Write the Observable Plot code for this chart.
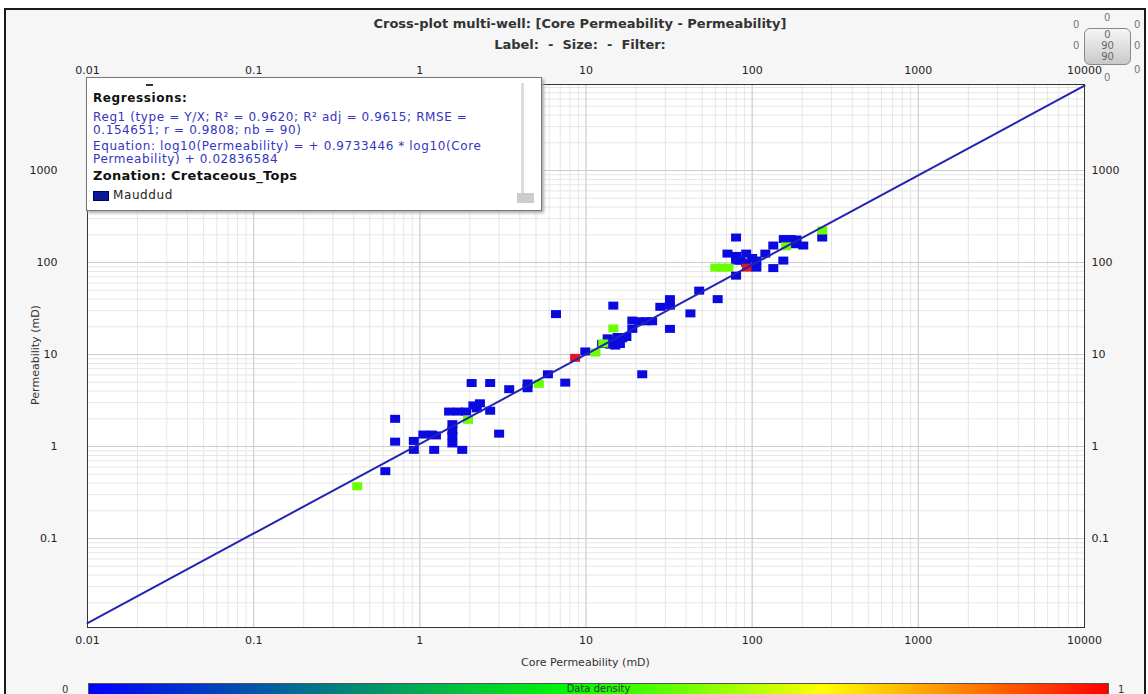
<!DOCTYPE html>
<html><head><meta charset="utf-8">
<script src="https://cdn.jsdelivr.net/npm/d3@7"></script>
<script src="https://cdn.jsdelivr.net/npm/@observablehq/plot@0.6"></script>
<style>
body{margin:0;background:#fff;font-family:"DejaVu Sans",Verdana,sans-serif;}
#page{position:relative;width:1148px;height:694px;overflow:hidden;background:#fff;}
#frame{position:absolute;left:4px;top:8px;width:1138px;height:700px;border:2px solid #1a1a1a;border-bottom:none;background:#f6f6f6;}
.abs{position:absolute;}
#title{left:0;width:1160px;top:13px;text-align:center;font-weight:bold;font-size:13px;color:#333;line-height:21px;}
#chart{left:0;top:0;}
#legend{left:86px;top:77px;width:454px;height:132px;background:#fff;border:1px solid #777;box-shadow:2px 2px 3px #aaa;font-size:12px;letter-spacing:0.6px;}
#legend .t{position:absolute;left:6px;white-space:nowrap;}
.blue{color:#3535c0;line-height:12.5px;}
#xlab{left:0;width:1171px;text-align:center;top:656px;font-size:11px;color:#333;}
#ylab{left:35px;top:355px;transform:translate(-50%,-50%) rotate(-90deg);font-size:11px;color:#333;white-space:nowrap;}
#bar{left:88px;top:683px;width:1019px;height:16px;background:linear-gradient(to right,#0000ff 0%,#007f80 24%,#00ff00 48%,#ffff00 72%,#ff8000 86%,#ff0000 100%);border:1px solid #555;}
#bar span{position:absolute;left:0;width:100%;text-align:center;top:-1px;font-size:10px;line-height:11px;color:#333;}
.w0{font-size:10px;color:#777;}
#widget{left:1084px;top:28px;width:45px;height:35px;border:1px solid #888;border-radius:6px;background:linear-gradient(#f6f6f6,#c9c9c9);font-size:10px;color:#666;text-align:center;line-height:11px;}
</style></head>
<body><div id="page">
<div id="frame"></div>
<div id="title" class="abs">Cross-plot multi-well: [Core Permeability - Permeability]<br>Label:&nbsp; -&nbsp; Size:&nbsp; -&nbsp; Filter:</div>
<div id="chart" class="abs"></div>
<div id="legend" class="abs">
  <div class="abs" style="left:59px;top:6px;width:7px;height:2px;background:#333"></div>
  <div class="t" style="top:13px;font-weight:bold;color:#111">Regressions:</div>
  <div class="t blue" style="top:33px">Reg1 (type = Y/X; R² = 0.9620; R² adj = 0.9615; RMSE =<br>0.154651; r = 0.9808; nb = 90)</div>
  <div class="t blue" style="top:62px">Equation: log10(Permeability) = + 0.9733446 * log10(Core<br>Permeability) + 0.02836584</div>
  <div class="t" style="top:90px;font-weight:bold;font-size:13px;letter-spacing:0.3px;color:#111">Zonation: Cretaceous_Tops</div>
  <div class="abs" style="left:6px;top:113px;width:14px;height:8px;background:#0a1a9a;border:1px solid #000050"></div>
  <div class="t" style="top:110px;left:26px;color:#222">Mauddud</div>
  <div class="abs" style="left:434px;top:5px;width:3px;height:110px;background:#ddd"></div>
  <div class="abs" style="left:430px;top:115px;width:17px;height:10px;background:#ccc"></div>
</div>
<div id="xlab" class="abs">Core Permeability (mD)</div>
<div id="ylab" class="abs">Permeability (mD)</div>
<div class="abs" style="left:62px;top:684px;font-size:10px;color:#333">0</div>
<div class="abs" style="left:1118px;top:684px;font-size:10px;color:#333">1</div>
<div id="bar" class="abs"><span>Data density</span></div>
<div class="abs w0" style="left:1073px;top:19px">0</div>
<div class="abs w0" style="left:1104px;top:12px">0</div>
<div class="abs w0" style="left:1134px;top:19px">0</div>
<div class="abs w0" style="left:1073px;top:40px">0</div>
<div class="abs w0" style="left:1134px;top:40px">0</div>
<div class="abs w0" style="left:1134px;top:64px">0</div>
<div class="abs w0" style="left:1104px;top:72px">0</div>
<div id="widget" class="abs"><div>0</div><div>90</div><div>90</div></div>
</div>
<script>
// Data
const coreK = [0.42,0.62,0.71,0.71,0.92,0.92,1.05,1.18,1.25,1.22,1.57,1.57,1.57,1.57,1.8,1.5,1.7,1.9,1.95,2.1,2.3,2.2,2.65,2.05,2.65,3.0,3.45,4.45,4.45,5.2,5.9,7.5,6.6,8.6,9.9,11.4,
  12.5,13.5,14.5,15.5,16.5,17.5,15,16,14,12.7,14.6,14.6,19,19,21,23,25,21.8,28,32,32,32,42.5,48,62,
  80,71,92,80,92,80,100,60,66,72,80,85,93,106,106,120,134,155,170,185,165,180,160,203,134,154,264,264];
const perm = [0.37,0.54,1.13,2.0,1.15,0.92,1.35,1.35,1.32,0.92,1.08,1.3,1.5,1.75,0.92,2.4,2.4,2.4,1.95,2.8,2.95,2.6,2.45,4.9,4.9,1.38,4.2,4.85,4.3,4.8,6.1,4.95,27.5,9.2,10.8,10.5,
  13,15,14,15.5,15,15.5,12.5,13,12.8,13.2,19.2,34,23.4,19,23,23,23,6.1,33,40,34,19,28,49.5,40,
  187,125,125,105,100,118,112,88,88,88,72,105,88,105,88,125,153,180,180,178,160,158,150,153,87,105,187,223];
const density = [0.58,0,0,0,0,0,0,0,0,0,0,0,0,0,0,0,0,0,0.58,0,0,0,0,0,0,0,0,0,0,0.58,0,0,0,1,0,0.58,
  0,0,0,0,0,0,0,0,0,0.58,0.58,0,0,0,0,0,0,0,0,0,0,0,0,0,0,
  0,0,0,0,0,0,0,0.58,0.58,0.58,0,0,1,0,0,0,0,0,0,0,0,0,0.58,0,0,0,0,0.58];
const xTicks = [0.01,0.1,1,10,100,1000,10000];
const xTickLabels = ["0.01","0.1","1","10","100","1000","10000"];
const yTicks = [0.1,1,10,100,1000];
const yTickLabels = ["0.1","1","10","100","1000"];
const regSlope = 0.9733446;
const regIntercept = 0.02836584;
const densityStops = [0,0.24,0.48,0.72,0.86,1];
const densityColors = ["#0a0ae0","#007f80","#00ff00","#ffff00","#ff8000","#e8141c"];

const points = coreK.map((x,i)=>({x, y: perm[i], d: density[i]}));
const xDomain = [0.01, 10000];
const yDomain = [Math.pow(10,-1.967), Math.pow(10,3.935)];
const minorX = [], minorY = [];
for (let e=-2;e<5;e++) for (let k=1;k<10;k++){
  const v = +(k*Math.pow(10,e)).toPrecision(3);
  if (v>=xDomain[0] && v<=xDomain[1]) minorX.push(v);
  if (v>=yDomain[0] && v<=yDomain[1]) minorY.push(v);
}
const rectSymbol = {draw(ctx){ ctx.rect(-5,-4,10,8); }};

const chart = Plot.plot({
  width: 1148, height: 680,
  marginLeft: 87, marginRight: 64, marginTop: 84, marginBottom: 53,
  style: {background:"transparent", fontFamily:"'DejaVu Sans', Verdana, sans-serif", fontSize:"11px", color:"#222"},
  x: {type:"log", domain: xDomain},
  y: {type:"log", domain: yDomain},
  color: {type:"linear", domain: densityStops, range: densityColors},
  marks: [
    Plot.frame({fill:"#fff", stroke:null}),
    Plot.gridX(minorX, {stroke:"#e6e6e6", strokeOpacity:1}),
    Plot.gridY(minorY, {stroke:"#e6e6e6", strokeOpacity:1}),
    Plot.gridX(xTicks, {stroke:"#cdcdcd", strokeOpacity:1}),
    Plot.gridY(yTicks, {stroke:"#cdcdcd", strokeOpacity:1}),
    Plot.axisX(xTicks, {anchor:"bottom", tickSize:0, tickPadding:9, label:null, tickFormat:d=>xTickLabels[xTicks.indexOf(d)]}),
    Plot.axisX(xTicks, {anchor:"top", tickSize:0, tickPadding:11, label:null, tickFormat:d=>xTickLabels[xTicks.indexOf(d)]}),
    Plot.axisY(yTicks, {anchor:"left", tickSize:0, tickPadding:30, label:null, tickFormat:d=>yTickLabels[yTicks.indexOf(d)]}),
    Plot.axisY(yTicks, {anchor:"right", tickSize:0, tickPadding:7, label:null, tickFormat:d=>yTickLabels[yTicks.indexOf(d)]}),
    Plot.dot(points, {x:"x", y:"y", fill:"d", symbol: rectSymbol, r: 4}),
    Plot.line(xDomain, {x: d=>d, y: d=>Math.pow(10, regIntercept + regSlope*Math.log10(d)), stroke:"#2323b4", strokeWidth:2}),
    Plot.frame({stroke:"#333", strokeWidth:1})
  ]
});
document.getElementById("chart").appendChild(chart);
</script>
</body></html>
